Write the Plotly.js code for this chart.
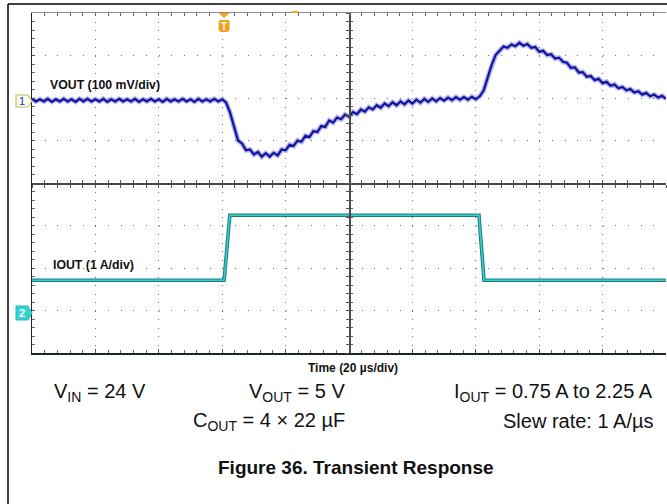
<!DOCTYPE html>
<html><head><meta charset="utf-8">
<script src="https://cdn.plot.ly/plotly-3.0.1.min.js"></script>
<style>html,body{margin:0;padding:0;background:#fff;}#chart{width:667px;height:504px;}</style>
</head><body><div id="chart"></div>
<script>
// ---- data ----
const timeUs = [0,1.25,2.5,3.75,5,6.25,7.5,8.75,10,11.25,12.5,13.75,15,16.25,17.5,18.75,20,21.25,22.5,23.75,25,26.25,27.5,28.75,30,31.25,32.5,33.75,35,36.25,37.5,38.75,40,41.25,42.5,43.75,45,46.25,47.5,48.75,50,51.25,52.5,53.75,55,56.25,57.5,58.75,60,
61.25,62.5,63.75,65,66.25,67.5,68.75,70,71.25,72.5,73.75,75,76.25,77.5,78.75,80,
81.25,82.5,83.75,85,86.25,87.5,88.75,90,91.25,92.5,93.75,95,96.25,97.5,98.75,100,
101.25,102.5,103.75,105,106.25,107.5,108.75,110,111.25,112.5,113.75,115,116.25,117.5,118.75,120,
121.25,122.5,123.75,125,126.25,127.5,128.75,130,131.25,132.5,133.75,135,136.25,137.5,138.75,140,
141.25,142.5,143.75,145,146.25,147.5,148.75,150,151.25,152.5,153.75,155,156.25,157.5,158.75,160,
161.25,162.5,163.75,165,166.25,167.5,168.75,170,171.25,172.5,173.75,175,176.25,177.5,178.75,180,
181.25,182.5,183.75,185,186.25,187.5,188.75,190,191.25,192.5,193.75,195,196.25,197.5,198.75,200];
const voutMv = [5,-1,4,-1,5,-2,4,-1,5,-1,4,-2,5,-1,5,-1,4,-1,5,-2,4,-1,5,-1,4,-1,5,-2,4,-1,5,-1,4,-2,5,-1,4,-1,5,-1,4,-2,5,-1,4,-1,5,-1,4,
-4,-28,-62,-93,-100,-116,-114,-126,-120,-131,-123,-131,-122,-128,-114,-116,
-103,-106,-93,-96,-82,-85,-71,-73,-59,-61,-46,-51,-39,-43,-32,-37,
-26,-31,-20,-25,-15,-20,-10,-16,-6,-12,-3,-10,-1,-8,1,-6,
3,-4,5,-2,6,-1,7,1,8,2,9,3,9,3,10,4,
11,25,55,85,108,118,128,125,133,129,137,130,134,125,127,116,
118,108,110,100,102,92,90,78,79,67,68,57,59,49,52,42,
45,36,39,30,33,25,28,20,23,15,19,11,15,8,12,5];
const ioutTimeUs = [0, 60.6, 62.4, 141.0, 142.6, 200];
const ioutA = [0.77, 0.77, 2.3, 2.3, 0.77, 0.77];
const triggerUs = 60.6;
const hposUs = 83;
const voutLabel = '<b>VOUT (100 mV/div)</b>';
const ioutLabel = '<b>IOUT (1 A/div)</b>';
const timeLabel = '<b>Time (20 µs/div)</b>';
const condLines = [
  ['V<sub>IN</sub> = 24 V', 'V<sub>OUT</sub> = 5 V', 'I<sub>OUT</sub> = 0.75 A to 2.25 A'],
  ['C<sub>OUT</sub> = 4 × 22 µF', 'Slew rate: 1 A/µs']
];
const figTitle = '<b>Figure 36. Transient Response</b>';

// ---- layout geometry ----
const W = 667, H = 504, L = 32, R = 1, T = 13, B = 151;
const pw = W - L - R, ph = H - T - B;
const PX = p => (p - L) / pw;
const PY = p => (H - B - p) / ph;
const FONT = 'Liberation Sans, Arial, sans-serif';
const GRIDC = '#6e6e6e';
const CS = 20;

const hid = {showgrid:false, zeroline:false, showticklabels:false, fixedrange:true};

const traces = [
  {x: timeUs, y: voutMv, xaxis:'x', yaxis:'y', mode:'lines', line:{color:'rgba(90,90,205,0.45)', width:5}, hoverinfo:'skip'},
  {x: timeUs, y: voutMv, xaxis:'x', yaxis:'y', mode:'lines', line:{color:'#1212a2', width:2.2}, hoverinfo:'skip'},
  {x: ioutTimeUs, y: ioutA, xaxis:'x', yaxis:'y2', mode:'lines', line:{color:'#16807f', width:3.6}, hoverinfo:'skip'},
  {x: ioutTimeUs, y: ioutA, xaxis:'x', yaxis:'y2', mode:'lines', line:{color:'#3ccaca', width:1.6}, hoverinfo:'skip'},
  {x: [], y: [], xaxis:'x2', yaxis:'y3', mode:'lines', hoverinfo:'skip'},
  {x: [], y: [], xaxis:'x3', yaxis:'y4', mode:'lines', hoverinfo:'skip'},
  {x: [], y: [], xaxis:'x4', yaxis:'y5', mode:'lines', hoverinfo:'skip'}
];

const xr = [0, 200];
const layout = {
  width: W, height: H,
  margin: {l: L, r: R, t: T, b: B, pad: 0},
  paper_bgcolor: '#fff', plot_bgcolor: '#fff',
  showlegend: false, hovermode: false,
  font: {family: FONT, color: '#111'},
  xaxis: Object.assign({}, hid, {range: xr, showgrid: true, dtick: 20, tick0: 0, gridcolor: GRIDC, griddash: '1px,7.5px', gridwidth: 1,
    showline: true, linecolor: '#1c2626', linewidth: 2, ticks: 'inside', ticklen: 4, tickcolor: '#555', tickwidth: 1,
    minor: {dtick: 4, tick0: 0, ticks: 'inside', ticklen: 3, tickcolor: '#666', tickwidth: 1, showgrid: false}}),
  xaxis2: Object.assign({}, hid, {range: xr, overlaying: 'x', side: 'top', anchor: 'y3', showline: true, linecolor: '#8c8c8c', linewidth: 1,
    ticks: 'inside', dtick: 4, tick0: 0, ticklen: 3, tickcolor: '#666'}),
  xaxis3: Object.assign({}, hid, {range: xr, overlaying: 'x', anchor: 'free', position: 0.5, side: 'bottom', showline: true, linecolor: '#4a4a4a', linewidth: 1.5,
    ticks: 'outside', dtick: 4, tick0: 0, ticklen: 3, tickcolor: '#555'}),
  xaxis4: Object.assign({}, hid, {range: xr, overlaying: 'x', anchor: 'free', position: 0.5, side: 'bottom', showline: false,
    ticks: 'inside', dtick: 4, tick0: 0, ticklen: 3, tickcolor: '#555'}),
  yaxis: Object.assign({}, hid, {range: [-593, 207]}),
  yaxis2: Object.assign({}, hid, {range: [-0.941, 7.059], overlaying: 'y'}),
  yaxis3: Object.assign({}, hid, {range: [0, 8], overlaying: 'y', anchor: 'x2', showgrid: true, dtick: 1, tick0: 0, gridcolor: GRIDC, griddash: '1px,11.68px', gridwidth: 1,
    showline: true, linecolor: '#1c2626', linewidth: 1.5, ticks: 'inside', ticklen: 3, tickcolor: '#555',
    minor: {dtick: 0.2, tick0: 0, ticks: 'inside', ticklen: 3, tickcolor: '#666', showgrid: false}}),
  yaxis4: Object.assign({}, hid, {range: [0, 8], overlaying: 'y', anchor: 'free', position: 0.5, side: 'left', showline: true, linecolor: '#4a4a4a', linewidth: 1.5,
    ticks: 'outside', dtick: 0.2, tick0: 0, ticklen: 3, tickcolor: '#555'}),
  yaxis5: Object.assign({}, hid, {range: [0, 8], overlaying: 'y', anchor: 'free', position: 0.5, side: 'left', showline: false,
    ticks: 'inside', dtick: 0.2, tick0: 0, ticklen: 3, tickcolor: '#555'}),
  shapes: [
    {type:'line', xref:'paper', yref:'paper', x0: PX(8), x1: PX(667), y0: PY(4), y1: PY(4), line:{color:'#000', width:1.5}},
    {type:'line', xref:'paper', yref:'paper', x0: PX(8), x1: PX(8), y0: PY(4), y1: PY(504), line:{color:'#000', width:1.5}},
    {type:'path', xref:'paper', yref:'y', xsizemode:'pixel', xanchor:0, ysizemode:'pixel', yanchor:0,
     path:'M-16,6 L-4,6 L0,0 L-4,-6 L-16,-6 Z', fillcolor:'#fbfbee', line:{color:'#c4bf63', width:1.2}},
    {type:'path', xref:'paper', yref:'y2', xsizemode:'pixel', xanchor:0, ysizemode:'pixel', yanchor:0,
     path:'M-16,7 L-4,7 L0,0 L-4,-7 L-16,-7 Z', fillcolor:'#36d2d2', line:{color:'#28b8b8', width:1}},
    {type:'path', xref:'x', yref:'paper', xsizemode:'pixel', xanchor: triggerUs, ysizemode:'pixel', yanchor:1,
     path:'M-5.5,0 L5.5,0 L0,-5 Z', fillcolor:'#f5a11f', line:{width:0}},
    {type:'path', xref:'x', yref:'paper', xsizemode:'pixel', xanchor: triggerUs, ysizemode:'pixel', yanchor:1,
     path:'M-3.5,-7 L3.5,-7 Q5.5,-7 5.5,-9 L5.5,-16 Q5.5,-19 2.5,-19 L-2.5,-19 Q-5.5,-19 -5.5,-16 L-5.5,-9 Q-5.5,-7 -3.5,-7 Z', fillcolor:'#f5a11f', line:{width:0}},
    {type:'path', xref:'x', yref:'paper', xsizemode:'pixel', xanchor: hposUs, ysizemode:'pixel', yanchor:1,
     path:'M-3,0 L3,0 L3,2 L-3,2 Z', fillcolor:'#f5a11f', line:{width:0}}
  ],
  annotations: [
    {xref:'paper', yref:'y', x:0, y:0, xanchor:'center', yanchor:'middle', xshift:-10, text:'1', showarrow:false, font:{family:FONT, size:11, color:'#2a2ad2'}},
    {xref:'paper', yref:'y2', x:0, y:0, xanchor:'center', yanchor:'middle', xshift:-10, text:'<b>2</b>', showarrow:false, font:{family:FONT, size:11, color:'#fff'}},
    {xref:'x', yref:'paper', x:triggerUs, y:1, xanchor:'center', yanchor:'middle', yshift:-13, text:'<b>T</b>', showarrow:false, font:{family:FONT, size:10, color:'#fff'}},
    {xref:'paper', yref:'paper', x:PX(48), y:PY(85), xanchor:'left', yanchor:'middle', text:voutLabel, showarrow:false, font:{family:FONT, size:12.3, color:'#111'}},
    {xref:'paper', yref:'paper', x:PX(51), y:PY(265), xanchor:'left', yanchor:'middle', text:ioutLabel, showarrow:false, font:{family:FONT, size:12.3, color:'#111'}},
    {xref:'paper', yref:'paper', x:PX(353), y:PY(368), xanchor:'center', yanchor:'middle', text:timeLabel, showarrow:false, font:{family:FONT, size:12, color:'#111'}},
    {xref:'paper', yref:'paper', x:PX(52), y:PY(392), xanchor:'left', yanchor:'middle', text:condLines[0][0], showarrow:false, font:{family:FONT, size:CS, color:'#111'}},
    {xref:'paper', yref:'paper', x:PX(347), y:PY(392), xanchor:'right', yanchor:'middle', text:condLines[0][1], showarrow:false, font:{family:FONT, size:CS, color:'#111'}},
    {xref:'paper', yref:'paper', x:PX(655), y:PY(392), xanchor:'right', yanchor:'middle', text:condLines[0][2], showarrow:false, font:{family:FONT, size:CS, color:'#111'}},
    {xref:'paper', yref:'paper', x:PX(347), y:PY(421), xanchor:'right', yanchor:'middle', text:condLines[1][0], showarrow:false, font:{family:FONT, size:CS, color:'#111'}},
    {xref:'paper', yref:'paper', x:PX(655), y:PY(421), xanchor:'right', yanchor:'middle', text:condLines[1][1], showarrow:false, font:{family:FONT, size:CS, color:'#111'}},
    {xref:'paper', yref:'paper', x:PX(356), y:PY(467), xanchor:'center', yanchor:'middle', text:figTitle, showarrow:false, font:{family:FONT, size:19, color:'#111'}}
  ]
};

Plotly.newPlot('chart', traces, layout, {staticPlot: true, displayModeBar: false});
</script></body></html>
